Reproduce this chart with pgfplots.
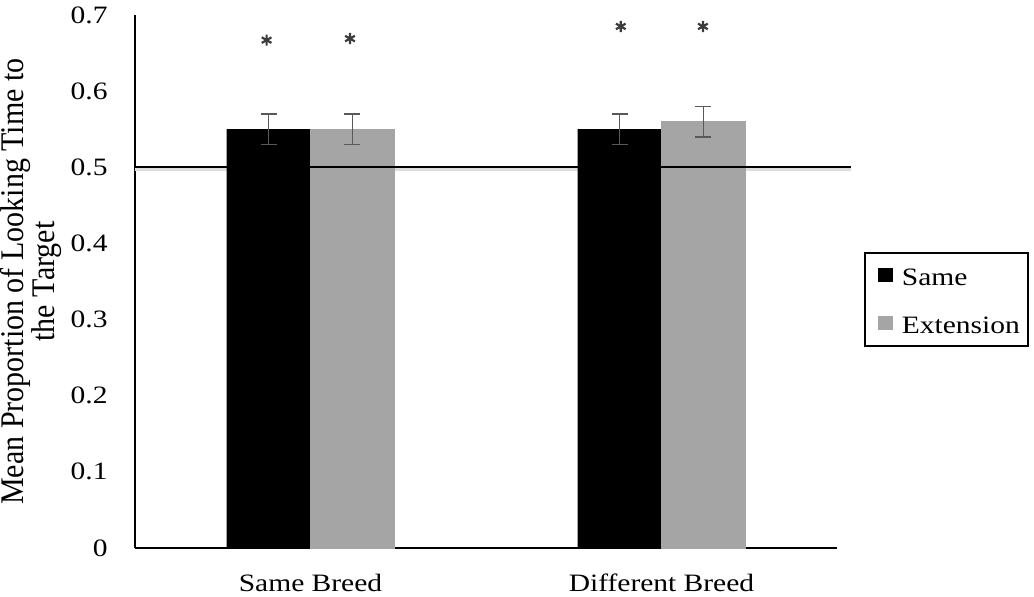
\documentclass[border=0pt]{standalone}
\usepackage{graphicx}
\usepackage{pgfplots}
\pgfplotsset{compat=1.18}
\usepackage{fontspec}
\setmainfont{Liberation Serif}
\definecolor{bargray}{HTML}{A5A5A5}
\definecolor{errgray}{HTML}{595959}
\definecolor{stargray}{HTML}{3C3C3C}
\definecolor{shadowgray}{HTML}{DDDDDD}
\newcommand{\sx}[1]{\scalebox{1.18}[1]{#1}}
\begin{document}
\begin{tikzpicture}
\useasboundingbox (-67.5pt,-24.5pt) rectangle (449.5pt,274pt);
\begin{axis}[
  at={(0,0)}, anchor=south west,
  scale only axis, width=351pt, height=266.5pt,
  xmin=-0.5, xmax=1.5, ymin=0, ymax=0.7,
  clip=false,
  axis lines*=left,
  axis line style={line width=0.9pt, black},
  major tick length=0pt,
  xtick={0,1}, xticklabels={\sx{Same Breed}, \sx{Different Breed}},
  ytick={0,0.1,0.2,0.3,0.4,0.5,0.6,0.7},
  yticklabels={\sx{0},\sx{0.1},\sx{0.2},\sx{0.3},\sx{0.4},\sx{0.5},\sx{0.6},\sx{0.7}},
  tick label style={font=\fontsize{12.5}{15}\selectfont},
  yticklabel style={anchor=east, inner sep=0pt, xshift=-13.5pt},
  xticklabel style={anchor=north, inner sep=0pt, yshift=-13pt},
  ylabel={\scalebox{1}[1.1]{\fontsize{15}{13.6}\selectfont\renewcommand{\arraystretch}{0.9}\begin{tabular}{@{}c@{}}Mean Proportion of Looking Time to\\the Target\end{tabular}}},
  ylabel style={at={(axis description cs:-0.103,0.5)}, anchor=south, inner sep=0pt},
  legend image code/.code={\path (0pt,0pt); \fill[#1,draw=none] (2.5pt,-3.5pt) rectangle (10pt,3.5pt);},
  legend style={
    at={(axis description cs:1.0385,0.5553)}, anchor=north west,
    draw=black, line width=0.75pt,
    inner xsep=4pt, inner ysep=6pt,
    font=\fontsize{12.5}{15}\selectfont,
    nodes={inner sep=0pt, text height=10.5pt, text depth=0pt},
    row sep=13.5pt,
    /tikz/every odd column/.append style={column sep=4.5pt},
  },
  legend cell align=left,
]
% shadow of reference line
\addplot[shadowgray, line width=1.6pt, forget plot] coordinates {(-0.5,0.4966) (1.54,0.4966)};
\addplot[ybar, bar width=0.239, bar shift=0, fill=black, draw=black, line width=0.1pt,
  error bars/.cd, y dir=both, y explicit, error mark=|,
  error bar style={draw=errgray, line width=0.75pt},
  error mark options={draw=errgray, mark size=4pt, line width=0.75pt}]
  coordinates {(-0.1195,0.55) +- (0,0.02) (0.8805,0.55) +- (0,0.02)};
\addlegendentry{\sx{Same}}
\addplot[ybar, bar width=0.239, bar shift=0, fill=bargray, draw=bargray, line width=0.1pt,
  error bars/.cd, y dir=both, y explicit, error mark=|,
  error bar style={draw=errgray, line width=0.75pt},
  error mark options={draw=errgray, mark size=4pt, line width=0.75pt}]
  coordinates {(0.1195,0.55) +- (0,0.02) (1.1195,0.56) +- (0,0.02)};
\addlegendentry{\sx{Extension}}
% reference line at 0.5
\addplot[black, line width=1pt, forget plot] coordinates {(-0.5,0.5) (1.54,0.5)};
% significance asterisks
\addplot[only marks, mark=asterisk, mark size=2.8pt, color=stargray, line width=1.1pt, forget plot]
  coordinates {(-0.125,0.667) (0.1125,0.669) (0.884,0.685) (1.118,0.685)};
\end{axis}
\end{tikzpicture}
\end{document}
